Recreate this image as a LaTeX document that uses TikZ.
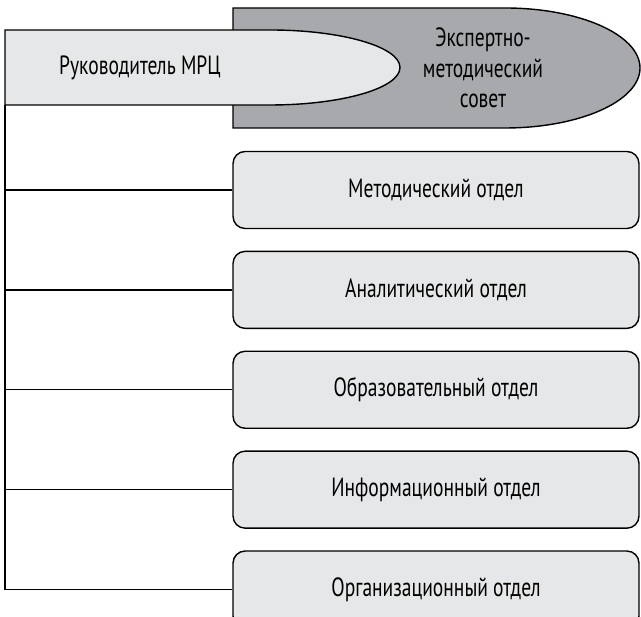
\documentclass[tikz,border=0pt]{standalone}
\usepackage{fontspec}
\setmainfont{PT Sans}[FakeStretch=0.74]
\usetikzlibrary{positioning}
\definecolor{lightfill}{HTML}{E6E7E8}
\definecolor{darkfill}{HTML}{A7A9AC}
\begin{document}
\begin{tikzpicture}[x=0.02cm,y=0.02cm,line width=0.8pt,
        font=\fontsize{15}{17.3}\selectfont,
        dept/.style={draw,fill=lightfill,rounded corners=0.24cm,
            minimum width=8.12cm,minimum height=1.54cm,inner sep=0pt},
        node distance=0.43cm]
\useasboundingbox (0,0) rectangle (641,617);

% expert council (behind)
\draw[fill=darkfill] (233,609) -- (505,609)
    arc[start angle=90,end angle=-90,x radius=135,y radius=60] -- (233,489) -- cycle;
% head of the centre
\draw[fill=lightfill] (5,587) -- (270,587)
    arc[start angle=90,end angle=-90,x radius=130,y radius=37.5] -- (5,512) -- cycle;
\coordinate (ruk-sw) at (5,512);

\node (ruk) at (140,549.5) {Руководитель МРЦ};
\node[align=center] (sovet) at (483,549) {Экспертно-\\методический\\совет};

\node[dept] (b1) at (436,427) {Методический отдел};
\node[dept,below=of b1] (b2) {Аналитический отдел};
\node[dept,below=of b2] (b3) {Образовательный отдел};
\node[dept,below=of b3] (b4) {Информационный отдел};
\node[dept,below=of b4] (b5) {Организационный отдел};

\draw (ruk-sw) |- (b5.west);
\foreach \b in {b1,b2,b3,b4}
    \draw (\b.west) -- (\b.west -| ruk-sw);
\end{tikzpicture}
\end{document}
